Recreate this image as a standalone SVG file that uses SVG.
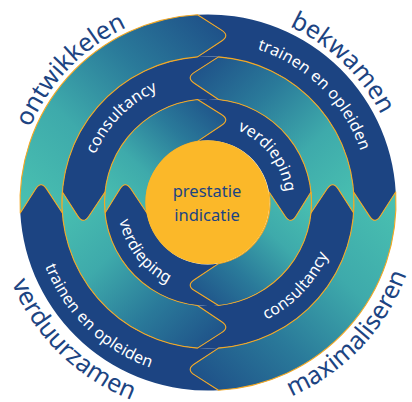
<svg xmlns="http://www.w3.org/2000/svg" width="412" height="402" viewBox="0 0 412 402">
<style>
  .dark{fill:#1c4482}
  .teal{stroke:#f4a823;stroke-width:1.1;stroke-linejoin:round}
  .cw{fill:url(#gCW)}
  .ccw{fill:url(#gCCW)}
  .word{font-family:"Noto Sans","Open Sans",sans-serif;font-size:25px;fill:#1c4482}
  .lbl{font-family:"Noto Sans","Open Sans",sans-serif;font-size:16px;letter-spacing:0.2px;fill:#ffffff}
  .ctr{font-family:"Noto Sans","Open Sans",sans-serif;font-size:16.5px;fill:#1c4482;text-anchor:middle}
</style>
<defs>
  <linearGradient id="gCW" x1="0" y1="1" x2="1" y2="0">
    <stop offset="0" stop-color="#4ac2b1"/>
    <stop offset="0.35" stop-color="#3eaaab"/>
    <stop offset="0.65" stop-color="#2a7a9a"/>
    <stop offset="1" stop-color="#1d4b86"/>
  </linearGradient>
  <linearGradient id="gCCW" x1="1" y1="0" x2="0" y2="1">
    <stop offset="0" stop-color="#4ac2b1"/>
    <stop offset="0.35" stop-color="#3eaaab"/>
    <stop offset="0.65" stop-color="#2a7a9a"/>
    <stop offset="1" stop-color="#1d4b86"/>
  </linearGradient>
  <path id="bandOuter" d="M20.29,213 A188,188 0 0 1 197.5,14.79 L221.57,30.13 Q230,35.5 221.65,41 L197.5,56.88 A146,146 0 0 0 62.38,213 L46.5,188.86 Q41,180.5 35.63,188.93 Z"/>
  <path id="bandMid" d="M218.5,56.88 A146,146 0 0 0 62.38,192 L77.85,216.08 Q83.25,224.5 88.82,216.19 L105.03,192 A103.5,103.5 0 0 1 218.5,99.53 L194.31,83.32 Q186,77.75 194.42,72.35 Z"/>
  <path id="bandInner" d="M105.03,213 A103.5,103.5 0 0 1 197.5,99.53 L221.51,114.47 Q230,119.75 221.68,125.29 L197.5,141.4 A62,62 0 0 0 146.9,213 L130.79,188.82 Q125.25,180.5 119.97,188.99 Z"/>
  <path id="tOntw" d="M22.5,255.7 A193,193 0 0 1 254.7,15.2"/>
  <path id="tBekw" d="M154.5,16 A194,194 0 0 1 396.2,249.4"/>
  <path id="tVerd" d="M2.7,149.8 A211,211 0 0 0 265,405.7"/>
  <path id="tMaxi" d="M159.2,407.8 A211,211 0 0 0 410.1,141.6"/>
  <path id="tTrTR" d="M165.2,47.3 A161,161 0 0 1 363.8,243.1"/>
  <path id="tConTL" d="M90,235.4 A122.5,122.5 0 0 1 238.5,83.8"/>
  <path id="tVdpTR" d="M197.5,125.2 A78,78 0 0 1 280.2,232.1"/>
  <path id="tTrBL" d="M38.1,160.5 A175,175 0 0 0 256.5,370.6"/>
  <path id="tVdpBL" d="M124.4,167.9 A90.5,90.5 0 0 0 219.8,292.2"/>
  <path id="tConBR" d="M177.4,329.9 A131,131 0 0 0 333.6,165.3"/>
</defs>

<g id="dark-segments">
  <g id="tl-middle"><use href="#bandMid" class="dark"/></g>
  <g id="tr-outer"><use href="#bandOuter" class="dark" transform="rotate(90 208 202.5)"/></g>
  <g id="tr-inner"><use href="#bandInner" class="dark" transform="rotate(90 208 202.5)"/></g>
  <g id="br-middle"><use href="#bandMid" class="dark" transform="rotate(180 208 202.5)"/></g>
  <g id="bl-outer"><use href="#bandOuter" class="dark" transform="rotate(270 208 202.5)"/></g>
  <g id="bl-inner"><use href="#bandInner" class="dark" transform="rotate(270 208 202.5)"/></g>
</g>
<g id="teal-segments">
  <g id="tl-outer"><use href="#bandOuter" class="teal cw"/></g>
  <g id="tl-inner"><use href="#bandInner" class="teal cw"/></g>
  <g id="tr-middle"><use href="#bandMid" class="teal ccw" transform="rotate(90 208 202.5)"/></g>
  <g id="br-outer"><use href="#bandOuter" class="teal cw" transform="rotate(180 208 202.5)"/></g>
  <g id="br-inner"><use href="#bandInner" class="teal cw" transform="rotate(180 208 202.5)"/></g>
  <g id="bl-middle"><use href="#bandMid" class="teal ccw" transform="rotate(270 208 202.5)"/></g>
</g>

<g id="center">
  <circle cx="207.5" cy="202.3" r="62" fill="#fbb829"/>
  <text class="ctr" x="207" y="197">prestatie</text>
  <text class="ctr" x="207" y="221">indicatie</text>
</g>

<g id="band-labels">
  <text class="lbl"><textPath href="#tTrTR" startOffset="50%" text-anchor="middle">trainen en opleiden</textPath></text>
  <text class="lbl"><textPath href="#tConTL" startOffset="50%" text-anchor="middle">consultancy</textPath></text>
  <text class="lbl"><textPath href="#tVdpTR" startOffset="50%" text-anchor="middle">verdieping</textPath></text>
  <text class="lbl"><textPath href="#tTrBL" startOffset="50%" text-anchor="middle">trainen en opleiden</textPath></text>
  <text class="lbl"><textPath href="#tVdpBL" startOffset="50%" text-anchor="middle">verdieping</textPath></text>
  <text class="lbl"><textPath href="#tConBR" startOffset="50%" text-anchor="middle">consultancy</textPath></text>
</g>

<g id="outer-words">
  <text class="word"><textPath href="#tOntw" startOffset="50%" text-anchor="middle">ontwikkelen</textPath></text>
  <text class="word"><textPath href="#tBekw" startOffset="50%" text-anchor="middle">bekwamen</textPath></text>
  <text class="word"><textPath href="#tVerd" startOffset="50%" text-anchor="middle">verduurzamen</textPath></text>
  <text class="word"><textPath href="#tMaxi" startOffset="50%" text-anchor="middle">maximaliseren</textPath></text>
</g>
</svg>
